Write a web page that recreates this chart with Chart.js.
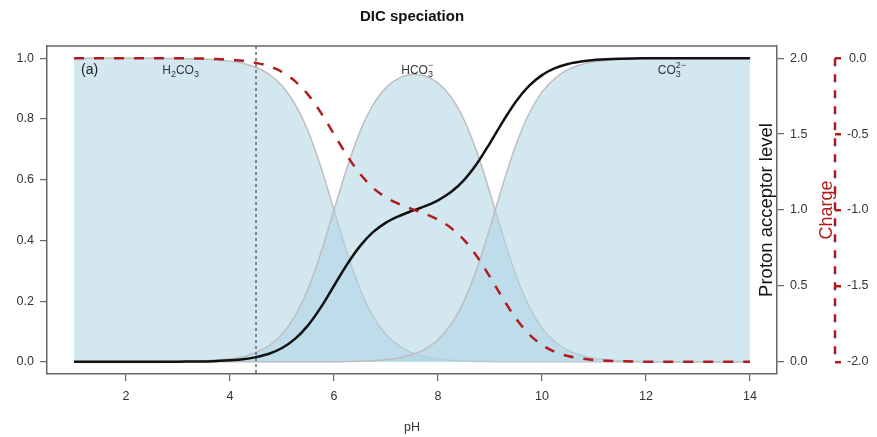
<!DOCTYPE html>
<html>
<head>
<meta charset="utf-8">
<title>DIC speciation</title>
<script src="https://cdn.jsdelivr.net/npm/chart.js@4/dist/chart.umd.min.js"></script>
<style>
  body { margin: 0; background: #fff; }
  canvas { display: block; }
</style>
</head>
<body>
<canvas id="cav" width="877" height="437"></canvas>
<script>
// pH grid and species fractions
var ph = [1, 1.25, 1.5, 1.75, 2, 2.25, 2.5, 2.75, 3, 3.25, 3.5, 3.75, 4, 4.25, 4.5, 4.75,
    5, 5.25, 5.5, 5.75, 6, 6.25, 6.5, 6.75, 7, 7.25, 7.5, 7.75, 8, 8.25, 8.5, 8.75,
    9, 9.25, 9.5, 9.75, 10, 10.25, 10.5, 10.75, 11, 11.25, 11.5, 11.75, 12, 12.25, 12.5, 12.75,
    13, 13.25, 13.5, 13.75, 14];

var h2co3 = [1, 1, 1, 1, 1, 1, 1, 0.999, 0.999, 0.998, 0.997, 0.994, 0.990, 0.983, 0.969, 0.947,
    0.909, 0.849, 0.760, 0.640, 0.500, 0.360, 0.240, 0.150, 0.090, 0.053, 0.030, 0.017, 0.009, 0.005, 0.003, 0.001,
    0.001, 0, 0, 0, 0, 0, 0, 0, 0, 0, 0, 0, 0, 0, 0, 0,
    0, 0, 0, 0, 0];

var hco3 = [0, 0, 0, 0, 0, 0, 0, 0.001, 0.001, 0.002, 0.003, 0.006, 0.010, 0.017, 0.031, 0.053,
    0.091, 0.151, 0.240, 0.360, 0.500, 0.639, 0.758, 0.846, 0.903, 0.934, 0.946, 0.941, 0.918, 0.872, 0.797, 0.690,
    0.557, 0.414, 0.285, 0.183, 0.112, 0.066, 0.038, 0.022, 0.012, 0.007, 0.004, 0.002, 0.001, 0, 0, 0,
    0, 0, 0, 0, 0];

var co3 = [0, 0, 0, 0, 0, 0, 0, 0, 0, 0, 0, 0, 0, 0, 0, 0,
    0, 0, 0, 0, 0, 0.001, 0.002, 0.004, 0.007, 0.013, 0.024, 0.042, 0.073, 0.123, 0.200, 0.308,
    0.442, 0.585, 0.715, 0.817, 0.888, 0.934, 0.962, 0.978, 0.988, 0.993, 0.996, 0.998, 0.999, 1, 1, 1,
    1, 1, 1, 1, 1];

// proton acceptor level (0..2) and charge (0..-2)
var level = [0, 0, 0, 0, 0, 0, 0, 0.001, 0.001, 0.002, 0.003, 0.006, 0.010, 0.017, 0.031, 0.053,
    0.091, 0.151, 0.240, 0.360, 0.501, 0.641, 0.762, 0.854, 0.917, 0.960, 0.994, 1.025, 1.064, 1.118, 1.197, 1.306,
    1.441, 1.584, 1.715, 1.817, 1.888, 1.934, 1.962, 1.978, 1.988, 1.993, 1.996, 1.998, 1.999, 2, 2, 2,
    2, 2, 2, 2, 2];

var charge = [0, 0, 0, 0, 0, 0, 0, -0.001, -0.001, -0.002, -0.003, -0.006, -0.010, -0.017, -0.031, -0.053,
    -0.091, -0.151, -0.240, -0.360, -0.501, -0.641, -0.762, -0.854, -0.917, -0.960, -0.994, -1.025, -1.064, -1.118, -1.197, -1.306,
    -1.441, -1.584, -1.715, -1.817, -1.888, -1.934, -1.962, -1.978, -1.988, -1.993, -1.996, -1.998, -1.999, -2, -2, -2,
    -2, -2, -2, -2, -2];

var phTicks = [2, 4, 6, 8, 10, 12, 14];
var fracTicks = [0, 0.2, 0.4, 0.6, 0.8, 1];
var levelTicks = [0, 0.5, 1, 1.5, 2];
var chargeTicks = [-2, -1.5, -1, -0.5, 0];
var markPH = 4.5;

var fillColour = 'rgba(173, 211, 228, 0.55)';
var edgeColour = 'rgba(190, 190, 190, 1)';
var chargeColour = '#b01c1c';
var axisColour = '#666';
var textColour = '#333';
var fontFamily = '"Liberation Sans", Arial, sans-serif';

function points(vals) {
    return vals.map(function (v, i) { return {x: ph[i], y: v}; });
}

function fixTicks(list) {
    return function (scale) {
        scale.ticks = list.map(function (v) { return {value: v}; });
    };
}

function speciesSet(vals, ord) {
    return {
        data: points(vals),
        yAxisID: 'y',
        order: ord,
        fill: 'origin',
        backgroundColor: fillColour,
        borderColor: edgeColour,
        borderWidth: 1.5,
        pointRadius: 0,
        cubicInterpolationMode: 'monotone'
    };
}

// text with sub/superscripts, parts: [text, sub, sup]
function drawChem(ctx, cx, cy, parts) {
    var big = '12px ' + fontFamily, small = '9px ' + fontFamily;
    var total = 0;
    parts.forEach(function (p) {
        ctx.font = big;
        var w = ctx.measureText(p[0]).width;
        ctx.font = small;
        w += Math.max(p[1] ? ctx.measureText(p[1]).width : 0, p[2] ? ctx.measureText(p[2]).width : 0);
        total += w;
    });
    var x = cx - total / 2;
    ctx.textAlign = 'left';
    ctx.textBaseline = 'alphabetic';
    parts.forEach(function (p) {
        ctx.font = big;
        ctx.fillText(p[0], x, cy);
        x += ctx.measureText(p[0]).width;
        ctx.font = small;
        var w = 0;
        if (p[1]) { ctx.fillText(p[1], x, cy + 3); w = ctx.measureText(p[1]).width; }
        if (p[2]) { ctx.fillText(p[2], x, cy - 6); w = Math.max(w, ctx.measureText(p[2]).width); }
        x += w;
    });
}

var decorations = {
    id: 'decorations',
    beforeDatasetDraw: function (chart, args) {
        if (args.index !== 3) return;
        // dashed marker line, under the two curves
        var ctx = chart.ctx, a = chart.chartArea;
        var x = chart.scales.x.getPixelForValue(markPH);
        ctx.save();
        ctx.strokeStyle = axisColour;
        ctx.lineWidth = 1.5;
        ctx.setLineDash([3, 3]);
        ctx.beginPath();
        ctx.moveTo(x, a.top);
        ctx.lineTo(x, a.bottom);
        ctx.stroke();
        ctx.restore();
    },
    afterDraw: function (chart) {
        var ctx = chart.ctx, a = chart.chartArea;
        var sx = chart.scales.x, sy = chart.scales.y, sc = chart.scales.yCharge;
        ctx.save();

        // top edge of the box
        ctx.strokeStyle = axisColour;
        ctx.lineWidth = 1.5;
        ctx.beginPath();
        ctx.moveTo(a.left, a.top);
        ctx.lineTo(a.right, a.top);
        ctx.stroke();

        // charge axis line
        ctx.strokeStyle = chargeColour;
        ctx.lineWidth = 2.5;
        ctx.setLineDash([8, 8]);
        ctx.beginPath();
        ctx.moveTo(sc.left, sc.getPixelForValue(0));
        ctx.lineTo(sc.left, sc.getPixelForValue(-2));
        ctx.stroke();
        ctx.setLineDash([]);

        // titles
        ctx.fillStyle = '#111';
        ctx.textAlign = 'center';
        ctx.textBaseline = 'middle';
        ctx.font = 'bold 15px ' + fontFamily;
        ctx.fillText('DIC speciation', (a.left + a.right) / 2, 17);
        ctx.fillStyle = textColour;
        ctx.font = '12.5px ' + fontFamily;
        ctx.fillText('pH', (a.left + a.right) / 2, 428);

        ctx.save();
        ctx.translate(767, sy.getPixelForValue(0.5));
        ctx.rotate(-Math.PI / 2);
        ctx.fillStyle = '#111';
        ctx.font = '18.5px ' + fontFamily;
        ctx.fillText('Proton acceptor level', 0, 0);
        ctx.restore();

        ctx.save();
        ctx.translate(827, sc.getPixelForValue(-1));
        ctx.rotate(-Math.PI / 2);
        ctx.fillStyle = chargeColour;
        ctx.font = '18px ' + fontFamily;
        ctx.fillText('Charge', 0, 0);
        ctx.restore();

        // panel tag and species names
        ctx.fillStyle = '#222';
        ctx.font = '14px ' + fontFamily;
        ctx.fillText('(a)', sx.getPixelForValue(1.3), sy.getPixelForValue(0.96));

        ctx.fillStyle = textColour;
        var yl = sy.getPixelForValue(0.96) + 4;
        drawChem(ctx, sx.getPixelForValue(3.05), yl, [['H', '2'], ['CO', '3']]);
        drawChem(ctx, sx.getPixelForValue(7.6), yl, [['HCO', '3', '\u2212']]);
        drawChem(ctx, sx.getPixelForValue(12.5), yl, [['CO', '3', '2\u2212']]);

        ctx.restore();
    }
};

var tickFont = {family: fontFamily, size: 12.5};

var chart = new Chart(document.getElementById('cav'), {
    type: 'line',
    data: {
        datasets: [
            speciesSet(h2co3, 5),
            speciesSet(hco3, 4),
            speciesSet(co3, 3),
            {
                data: points(level),
                yAxisID: 'yLevel',
                order: 1,
                fill: false,
                borderColor: '#111',
                borderWidth: 2.5,
                pointRadius: 0,
                cubicInterpolationMode: 'monotone'
            },
            {
                data: points(charge),
                yAxisID: 'yCharge',
                order: 0,
                fill: false,
                borderColor: chargeColour,
                borderWidth: 2.5,
                borderDash: [10, 10],
                pointRadius: 0,
                cubicInterpolationMode: 'monotone'
            }
        ]
    },
    options: {
        responsive: false,
        animation: false,
        devicePixelRatio: 1,
        layout: {padding: {top: 46, left: 0, right: 0, bottom: 0}},
        plugins: {legend: {display: false}, tooltip: {enabled: false}},
        scales: {
            x: {
                type: 'linear',
                min: 0.48,
                max: 14.52,
                afterBuildTicks: fixTicks(phTicks),
                afterFit: function (s) { s.height = 63; },
                grid: {drawOnChartArea: false, tickLength: 7, color: axisColour, lineWidth: 1.2},
                border: {display: true, color: axisColour, width: 1.5},
                ticks: {font: tickFont, color: textColour, padding: 8, maxRotation: 0,
                    callback: function (v) { return String(v); }}
            },
            y: {
                position: 'left',
                min: -0.04,
                max: 1.04,
                afterBuildTicks: fixTicks(fracTicks),
                afterFit: function (s) { s.width = 47; },
                grid: {drawOnChartArea: false, tickLength: 7, color: axisColour, lineWidth: 1.2},
                border: {display: true, color: axisColour, width: 1.5},
                ticks: {font: tickFont, color: textColour, padding: 6,
                    callback: function (v) { return v.toFixed(1); }}
            },
            yLevel: {
                position: 'right',
                weight: 0,
                min: -0.08,
                max: 2.08,
                afterBuildTicks: fixTicks(levelTicks),
                afterFit: function (s) { s.width = 58; },
                grid: {drawOnChartArea: false, tickLength: 7, color: axisColour, lineWidth: 1.2},
                border: {display: true, color: axisColour, width: 1.5},
                ticks: {font: tickFont, color: textColour, padding: 6,
                    callback: function (v) { return v.toFixed(1); }}
            },
            yCharge: {
                position: 'right',
                weight: 1,
                min: -2.08,
                max: 0.08,
                afterBuildTicks: fixTicks(chargeTicks),
                afterFit: function (s) { s.width = 42; },
                grid: {drawOnChartArea: false, tickLength: 6, color: chargeColour, lineWidth: 2.5},
                border: {display: false},
                ticks: {font: tickFont, color: textColour, padding: 6, crossAlign: 'center',
                    callback: function (v) { return v.toFixed(1); }}
            }
        }
    },
    plugins: [decorations]
});
</script>
</body>
</html>
